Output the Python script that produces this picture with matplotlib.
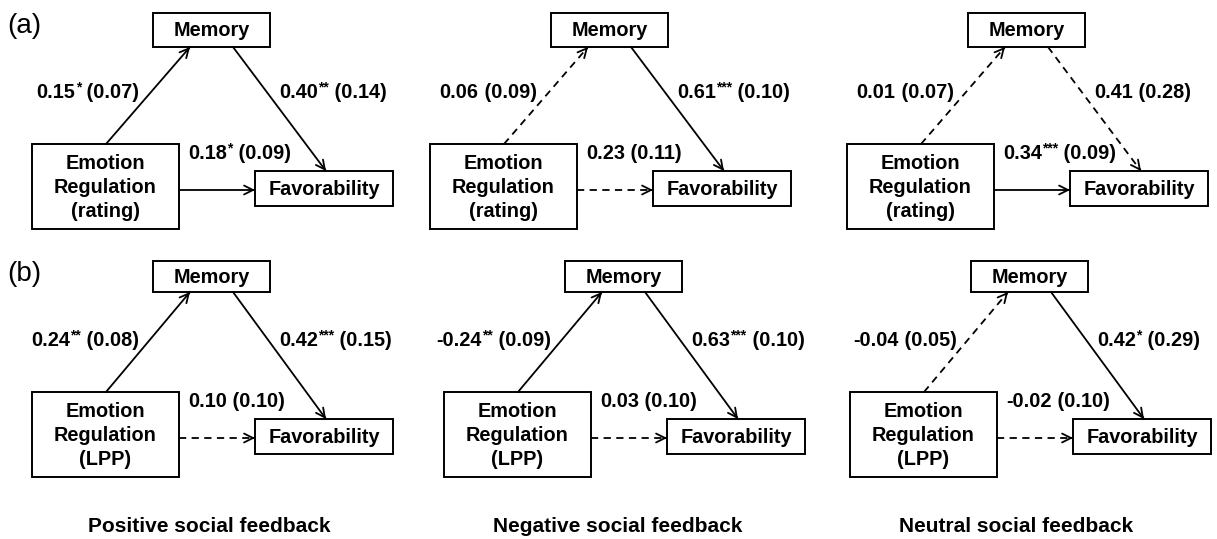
import numpy as np
import matplotlib
matplotlib.use("Agg")
import matplotlib.pyplot as plt
from matplotlib.patches import Rectangle

plt.rcParams['font.family'] = ['Liberation Sans', 'DejaVu Sans']

# ---------------------------------------------------
# data: mediation coefficients (b, stars, SE)
# rows: (a) rating, (b) LPP ; columns: positive / negative / neutral feedback
# ---------------------------------------------------
conditions = ['Positive social feedback', 'Negative social feedback', 'Neutral social feedback']
row_tags = ['(a)', '(b)']
predictors = ['rating', 'LPP']

a_coef = [[0.15, 0.06, 0.01], [0.24, -0.24, -0.04]]
a_star = [['*', '', ''], ['**', '**', '']]
a_se = [[0.07, 0.09, 0.07], [0.08, 0.09, 0.05]]

b_coef = [[0.40, 0.61, 0.41], [0.42, 0.63, 0.42]]
b_star = [['**', '***', ''], ['***', '***', '*']]
b_se = [[0.14, 0.10, 0.28], [0.15, 0.10, 0.29]]

c_coef = [[0.18, 0.23, 0.34], [0.10, 0.03, -0.02]]
c_star = [['*', '', '***'], ['', '', '']]
c_se = [[0.09, 0.11, 0.09], [0.10, 0.10, 0.10]]

# layout (pixels)
col_dx = [[0, 398, 815], [0, 412, 818]]
row_dy = [0, 248]
foot_x = [209, 618, 1016]
FS = 14.3
STAR_FS = 10


def label(ax, x, y, coef, star, se, align):
    # draws "coef^stars (se)" in pieces, y is the baseline
    kw = dict(fontsize=FS, fontweight='bold')
    cs = '%.2f' % coef
    ss = ' (%.2f)' % se
    if align == 'left':
        t1 = ax.text(x, y, cs, ha='left', va='baseline', **kw)
        prev = t1
        if star:
            prev = ax.annotate(star, xy=(1, 1), xycoords=t1, xytext=(0.3, 1.5),
                               textcoords='offset points', ha='left', va='top',
                               fontsize=STAR_FS, fontweight='bold')
        ax.annotate(ss, xy=(1, y), xycoords=(prev, 'data'), ha='left',
                    va='baseline', **kw)
    else:
        t3 = ax.text(x, y, ss, ha='right', va='baseline', **kw)
        prev = t3
        if star:
            prev = ax.annotate(star, xy=(0, 1), xycoords=t3, xytext=(0, 1.5),
                               textcoords='offset points', ha='right', va='top',
                               fontsize=STAR_FS, fontweight='bold')
        ax.annotate(cs, xy=(0, y), xycoords=(prev, 'data'), xytext=(-0.3, 0),
                    textcoords='offset points', ha='right', va='baseline', **kw)


def box(ax, x0, y0, x1, y1, txt):
    ax.add_patch(Rectangle((x0, y0), x1 - x0, y1 - y0, fill=False, lw=1.4, ec='black'))
    ax.text((x0 + x1) / 2, (y0 + y1) / 2 + 1, txt, ha='center', va='center',
            fontsize=FS, fontweight='bold', linespacing=1.35)


def arrow(ax, p0, p1, dashed):
    p0 = np.array(p0, float)
    p1 = np.array(p1, float)
    if dashed:
        ax.plot([p0[0], p1[0]], [p0[1], p1[1]], color='black', lw=1.3, dashes=(4, 3))
    else:
        ax.plot([p0[0], p1[0]], [p0[1], p1[1]], color='black', lw=1.3)
    d = (p1 - p0) / np.hypot(*(p1 - p0))
    ax.annotate('', xy=p1, xytext=p1 - d * 2,
                arrowprops=dict(arrowstyle='->', lw=1.3, color='black',
                                shrinkA=0, shrinkB=0, mutation_scale=16))


fig = plt.figure(figsize=(12.17, 5.39), dpi=100)
ax = fig.add_axes([0, 0, 1, 1])
ax.set_xlim(0, 1217)
ax.set_ylim(539, 0)
ax.axis('off')

for r in range(2):
    dy = row_dy[r]
    ax.text(7, 26 + dy, row_tags[r], fontsize=20, ha='left', va='center')
    for c in range(3):
        dx = col_dx[r][c]
        mh = 34 if r == 0 else 31
        box(ax, 153 + dx, 13 + dy, 270 + dx, 13 + mh + dy, 'Memory')
        box(ax, 32 + dx, 144 + dy, 179 + dx, 229 + dy,
            'Emotion\nRegulation\n(' + predictors[r] + ')')
        box(ax, 255 + dx, 171 + dy, 393 + dx, 206 + dy, 'Favorability')

        arrow(ax, (106 + dx, 144 + dy), (190 + dx, 13 + mh + dy), not a_star[r][c])
        arrow(ax, (233 + dx, 13 + mh + dy), (326 + dx, 171 + dy), not b_star[r][c])
        arrow(ax, (179 + dx, 190 + dy), (255 + dx, 190 + dy), not c_star[r][c])

        label(ax, 139 + dx, 98 + dy, a_coef[r][c], a_star[r][c], a_se[r][c], 'right')
        label(ax, 279 + dx, 98 + dy, b_coef[r][c], b_star[r][c], b_se[r][c], 'left')
        label(ax, 188 + dx, 159 + dy, c_coef[r][c], c_star[r][c], c_se[r][c], 'left')

for c in range(3):
    ax.text(foot_x[c], 527, conditions[c], ha='center', va='center',
            fontsize=15, fontweight='bold')

fig.savefig('out.png', dpi=100, facecolor='white')
